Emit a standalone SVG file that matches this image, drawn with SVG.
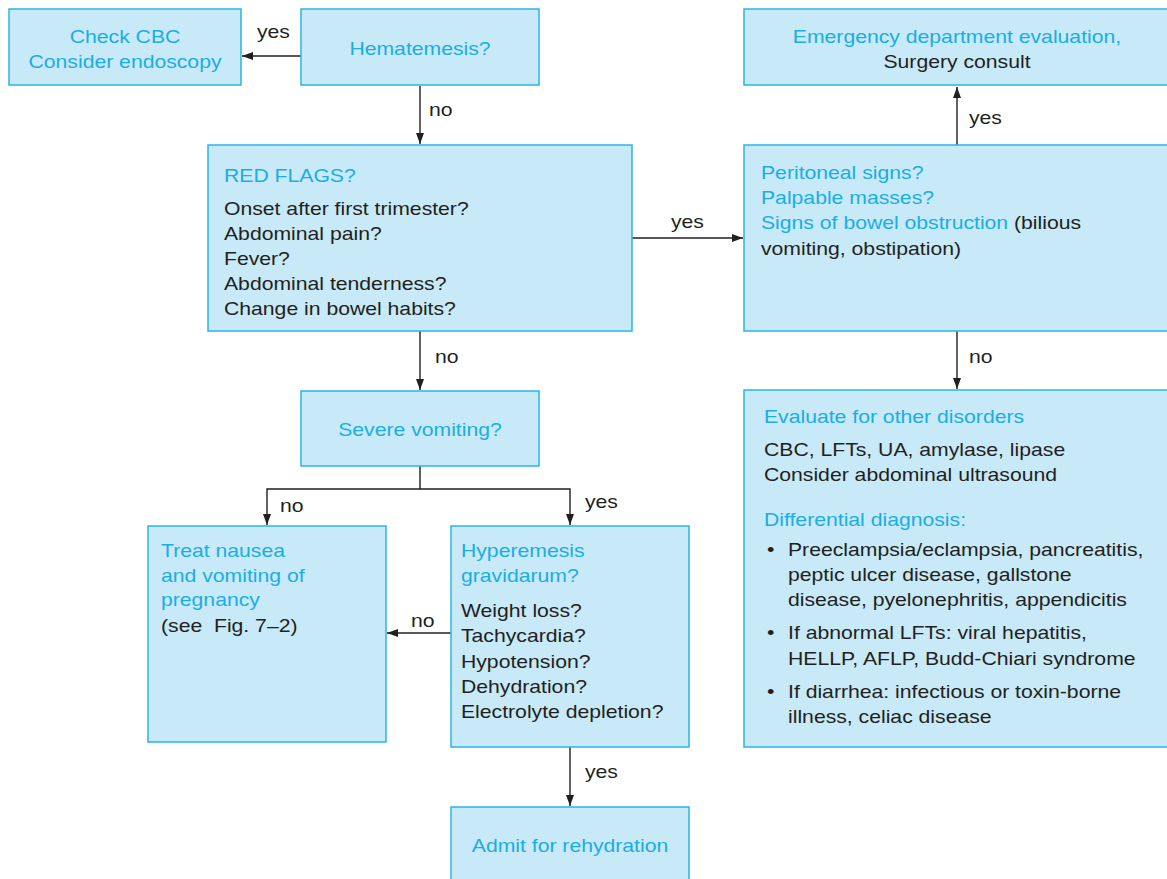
<svg xmlns="http://www.w3.org/2000/svg" width="1167" height="879" viewBox="0 0 1167 879">
<style>
.box{fill:#c7e9f8;stroke:#29b5e9;stroke-width:1.5}
.t{font-family:"Liberation Sans",Arial,Helvetica,sans-serif;font-size:18.5px;fill:#231f20}
.b{fill:#1aade6}
.k{fill:#231f20}
.c{text-anchor:middle}
.ln{stroke:#231f20;stroke-width:1.4;fill:none}
</style>
<defs>
<marker id="ah" markerUnits="userSpaceOnUse" markerWidth="12" markerHeight="10" refX="11" refY="4" orient="auto">
<path d="M0,0 L11,4 L0,8 Z" fill="#231f20"/>
</marker>
</defs>
<rect width="1167" height="879" fill="#ffffff"/>

<g id="connectors">
<line class="ln" x1="301" y1="56" x2="242" y2="56" marker-end="url(#ah)"/>
<text class="t" transform="translate(257,38) scale(1.145,1)">yes</text>
<line class="ln" x1="420" y1="86" x2="420" y2="144" marker-end="url(#ah)"/>
<text class="t" transform="translate(429,116) scale(1.145,1)">no</text>
<line class="ln" x1="632" y1="238" x2="743" y2="238" marker-end="url(#ah)"/>
<text class="t" transform="translate(671,228) scale(1.145,1)">yes</text>
<line class="ln" x1="957" y1="145" x2="957" y2="87" marker-end="url(#ah)"/>
<text class="t" transform="translate(969,124) scale(1.145,1)">yes</text>
<line class="ln" x1="957" y1="331" x2="957" y2="389" marker-end="url(#ah)"/>
<text class="t" transform="translate(969,363) scale(1.145,1)">no</text>
<line class="ln" x1="420" y1="331" x2="420" y2="390" marker-end="url(#ah)"/>
<text class="t" transform="translate(435,363) scale(1.145,1)">no</text>
<polyline class="ln" points="420,466 420,489 267,489 267,525" marker-end="url(#ah)"/>
<polyline class="ln" points="420,489 570,489 570,525" marker-end="url(#ah)"/>
<text class="t" transform="translate(280,512) scale(1.145,1)">no</text>
<text class="t" transform="translate(585,508) scale(1.145,1)">yes</text>
<line class="ln" x1="451" y1="633" x2="387" y2="633" marker-end="url(#ah)"/>
<text class="t" transform="translate(411,627) scale(1.145,1)">no</text>
<line class="ln" x1="570" y1="747" x2="570" y2="806" marker-end="url(#ah)"/>
<text class="t" transform="translate(585,778) scale(1.145,1)">yes</text>
</g>

<g id="check-cbc">
<rect class="box" x="9" y="9" width="232" height="76"/>
<text class="t b c" transform="translate(125,43) scale(1.145,1)"><tspan x="0">Check CBC</tspan><tspan x="0" dy="25">Consider endoscopy</tspan></text>
</g>

<g id="hematemesis">
<rect class="box" x="301" y="9" width="238" height="76"/>
<text class="t b c" transform="translate(420,55) scale(1.145,1)">Hematemesis?</text>
</g>

<g id="emergency">
<rect class="box" x="744" y="9" width="440" height="76"/>
<text class="t c" transform="translate(957,43) scale(1.145,1)"><tspan x="0" class="b">Emergency department evaluation,</tspan><tspan x="0" dy="25">Surgery consult</tspan></text>
</g>

<g id="red-flags">
<rect class="box" x="208" y="145" width="424" height="186"/>
<text class="t" transform="translate(224,182) scale(1.145,1)"><tspan x="0" class="b">RED FLAGS?</tspan><tspan x="0" dy="33">Onset after first trimester?</tspan><tspan x="0" dy="25">Abdominal pain?</tspan><tspan x="0" dy="25">Fever?</tspan><tspan x="0" dy="25.5">Abdominal tenderness?</tspan><tspan x="0" dy="25">Change in bowel habits?</tspan></text>
</g>

<g id="peritoneal">
<rect class="box" x="744" y="145" width="440" height="186"/>
<text class="t" transform="translate(761,179) scale(1.145,1)"><tspan x="0" class="b">Peritoneal signs?</tspan><tspan x="0" dy="25" class="b">Palpable masses?</tspan><tspan x="0" dy="25.5"><tspan class="b">Signs of bowel obstruction</tspan> (bilious</tspan><tspan x="0" dy="25.5">vomiting, obstipation)</tspan></text>
</g>

<g id="severe-vomiting">
<rect class="box" x="301" y="391" width="238" height="75"/>
<text class="t b c" transform="translate(420,436) scale(1.145,1)">Severe vomiting?</text>
</g>

<g id="evaluate">
<rect class="box" x="744" y="390" width="440" height="357"/>
<text class="t" transform="translate(764,423) scale(1.145,1)"><tspan x="0" class="b">Evaluate for other disorders</tspan><tspan x="0" dy="33">CBC, LFTs, UA, amylase, lipase</tspan><tspan x="0" dy="25">Consider abdominal ultrasound</tspan><tspan x="0" dy="45" class="b">Differential diagnosis:</tspan></text>
<text class="t" transform="translate(767,556) scale(1.145,1)"><tspan x="0">•</tspan><tspan x="0" y="83">•</tspan><tspan x="0" y="142">•</tspan></text>
<text class="t" transform="translate(788,556) scale(1.145,1)"><tspan x="0">Preeclampsia/eclampsia, pancreatitis,</tspan><tspan x="0" dy="25">peptic ulcer disease, gallstone</tspan><tspan x="0" dy="25.5">disease, pyelonephritis, appendicitis</tspan><tspan x="0" dy="32.5">If abnormal LFTs: viral hepatitis,</tspan><tspan x="0" dy="26">HELLP, AFLP, Budd-Chiari syndrome</tspan><tspan x="0" dy="33">If diarrhea: infectious or toxin-borne</tspan><tspan x="0" dy="25">illness, celiac disease</tspan></text>
</g>

<g id="treat-nausea">
<rect class="box" x="148" y="526" width="238" height="216"/>
<text class="t" transform="translate(161,557) scale(1.145,1)" style="white-space:pre"><tspan x="0" class="b">Treat nausea</tspan><tspan x="0" dy="25" class="b">and vomiting of</tspan><tspan x="0" dy="24.5" class="b">pregnancy</tspan><tspan x="0" dy="25.5">(see  Fig. 7–2)</tspan></text>
</g>

<g id="hyperemesis">
<rect class="box" x="451" y="526" width="238" height="221"/>
<text class="t" transform="translate(461,557) scale(1.145,1)"><tspan x="0" class="b">Hyperemesis</tspan><tspan x="0" dy="25" class="b">gravidarum?</tspan><tspan x="0" dy="35">Weight loss?</tspan><tspan x="0" dy="25">Tachycardia?</tspan><tspan x="0" dy="26">Hypotension?</tspan><tspan x="0" dy="25.5">Dehydration?</tspan><tspan x="0" dy="25">Electrolyte depletion?</tspan></text>
</g>

<g id="admit">
<rect class="box" x="451" y="807" width="238" height="90"/>
<text class="t b c" transform="translate(570,852) scale(1.145,1)">Admit for rehydration</text>
</g>
</svg>
